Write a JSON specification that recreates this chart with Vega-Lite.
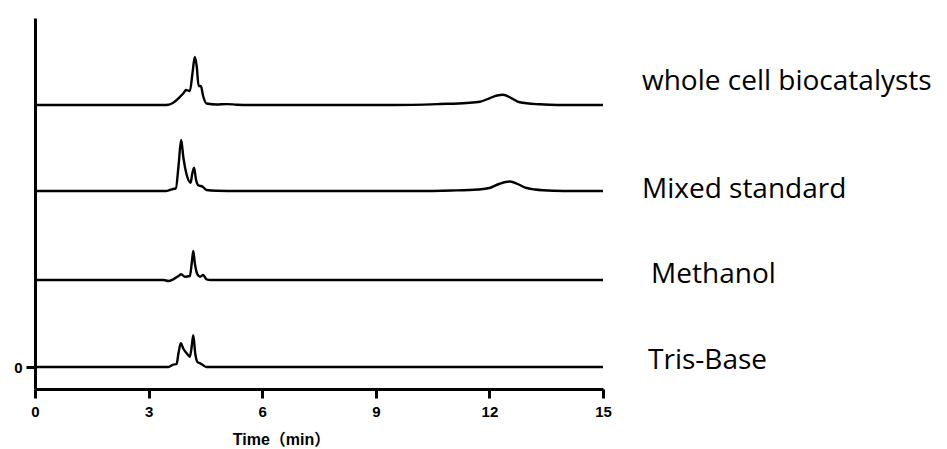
{
  "$schema": "https://vega.github.io/schema/vega-lite/v6.json",
  "width": 568,
  "height": 371,
  "autosize": {"type": "none"},
  "padding": {"left": 35, "top": 18, "right": 344, "bottom": 60},
  "background": "white",
  "config": {"view": {"stroke": null}},
  "layer": [
    {
      "data": {"values": [
        {"series": "whole cell biocatalysts", "t": 0, "value": 262},
        {"series": "whole cell biocatalysts", "t": 3.4, "value": 262},
        {"series": "whole cell biocatalysts", "t": 3.52, "value": 262.2},
        {"series": "whole cell biocatalysts", "t": 3.65, "value": 264.3},
        {"series": "whole cell biocatalysts", "t": 3.81, "value": 269.3},
        {"series": "whole cell biocatalysts", "t": 3.87, "value": 271.7},
        {"series": "whole cell biocatalysts", "t": 3.93, "value": 274.3},
        {"series": "whole cell biocatalysts", "t": 3.99, "value": 277},
        {"series": "whole cell biocatalysts", "t": 4.09, "value": 276},
        {"series": "whole cell biocatalysts", "t": 4.16, "value": 294},
        {"series": "whole cell biocatalysts", "t": 4.22, "value": 310},
        {"series": "whole cell biocatalysts", "t": 4.27, "value": 301},
        {"series": "whole cell biocatalysts", "t": 4.32, "value": 281},
        {"series": "whole cell biocatalysts", "t": 4.38, "value": 281},
        {"series": "whole cell biocatalysts", "t": 4.44, "value": 271},
        {"series": "whole cell biocatalysts", "t": 4.53, "value": 263.5},
        {"series": "whole cell biocatalysts", "t": 4.8, "value": 262.5},
        {"series": "whole cell biocatalysts", "t": 5.06, "value": 262.9},
        {"series": "whole cell biocatalysts", "t": 5.33, "value": 262.3},
        {"series": "whole cell biocatalysts", "t": 5.7, "value": 262},
        {"series": "whole cell biocatalysts", "t": 9.5, "value": 262},
        {"series": "whole cell biocatalysts", "t": 10.7, "value": 263},
        {"series": "whole cell biocatalysts", "t": 11.4, "value": 264},
        {"series": "whole cell biocatalysts", "t": 11.75, "value": 265.3},
        {"series": "whole cell biocatalysts", "t": 12.0, "value": 268.7},
        {"series": "whole cell biocatalysts", "t": 12.2, "value": 271.5},
        {"series": "whole cell biocatalysts", "t": 12.36, "value": 272.3},
        {"series": "whole cell biocatalysts", "t": 12.59, "value": 268.7},
        {"series": "whole cell biocatalysts", "t": 12.8, "value": 264.7},
        {"series": "whole cell biocatalysts", "t": 13.33, "value": 262.7},
        {"series": "whole cell biocatalysts", "t": 13.8, "value": 262},
        {"series": "whole cell biocatalysts", "t": 15, "value": 262},

        {"series": "Mixed standard", "t": 0, "value": 176},
        {"series": "Mixed standard", "t": 3.45, "value": 176},
        {"series": "Mixed standard", "t": 3.61, "value": 177.7},
        {"series": "Mixed standard", "t": 3.72, "value": 178.7},
        {"series": "Mixed standard", "t": 3.79, "value": 201},
        {"series": "Mixed standard", "t": 3.86, "value": 227},
        {"series": "Mixed standard", "t": 3.92, "value": 209},
        {"series": "Mixed standard", "t": 4.0, "value": 193},
        {"series": "Mixed standard", "t": 4.11, "value": 184.3},
        {"series": "Mixed standard", "t": 4.15, "value": 192.7},
        {"series": "Mixed standard", "t": 4.2, "value": 199.3},
        {"series": "Mixed standard", "t": 4.25, "value": 187.7},
        {"series": "Mixed standard", "t": 4.31, "value": 181.7},
        {"series": "Mixed standard", "t": 4.43, "value": 180.3},
        {"series": "Mixed standard", "t": 4.53, "value": 177},
        {"series": "Mixed standard", "t": 4.8, "value": 176.3},
        {"series": "Mixed standard", "t": 5.4, "value": 176},
        {"series": "Mixed standard", "t": 10.0, "value": 176},
        {"series": "Mixed standard", "t": 11.0, "value": 176.5},
        {"series": "Mixed standard", "t": 11.7, "value": 177.5},
        {"series": "Mixed standard", "t": 12.0, "value": 179},
        {"series": "Mixed standard", "t": 12.25, "value": 183},
        {"series": "Mixed standard", "t": 12.54, "value": 185.5},
        {"series": "Mixed standard", "t": 12.75, "value": 183},
        {"series": "Mixed standard", "t": 12.95, "value": 179.3},
        {"series": "Mixed standard", "t": 13.2, "value": 177.5},
        {"series": "Mixed standard", "t": 13.7, "value": 176.3},
        {"series": "Mixed standard", "t": 14.2, "value": 176},
        {"series": "Mixed standard", "t": 15, "value": 176},

        {"series": "Methanol", "t": 0, "value": 87},
        {"series": "Methanol", "t": 3.4, "value": 87},
        {"series": "Methanol", "t": 3.52, "value": 86},
        {"series": "Methanol", "t": 3.65, "value": 87.7},
        {"series": "Methanol", "t": 3.79, "value": 91},
        {"series": "Methanol", "t": 3.86, "value": 92.7},
        {"series": "Methanol", "t": 3.96, "value": 90.3},
        {"series": "Methanol", "t": 4.09, "value": 91},
        {"series": "Methanol", "t": 4.14, "value": 104},
        {"series": "Methanol", "t": 4.18, "value": 116},
        {"series": "Methanol", "t": 4.22, "value": 104},
        {"series": "Methanol", "t": 4.29, "value": 92.7},
        {"series": "Methanol", "t": 4.36, "value": 90.3},
        {"series": "Methanol", "t": 4.44, "value": 92},
        {"series": "Methanol", "t": 4.53, "value": 87.7},
        {"series": "Methanol", "t": 4.65, "value": 87},
        {"series": "Methanol", "t": 15, "value": 87},

        {"series": "Tris-Base", "t": 0, "value": 0},
        {"series": "Tris-Base", "t": 3.52, "value": 0},
        {"series": "Tris-Base", "t": 3.65, "value": 2.3},
        {"series": "Tris-Base", "t": 3.74, "value": 3},
        {"series": "Tris-Base", "t": 3.79, "value": 14},
        {"series": "Tris-Base", "t": 3.85, "value": 23.7},
        {"series": "Tris-Base", "t": 3.92, "value": 18},
        {"series": "Tris-Base", "t": 4.0, "value": 14},
        {"series": "Tris-Base", "t": 4.09, "value": 10.3},
        {"series": "Tris-Base", "t": 4.14, "value": 21},
        {"series": "Tris-Base", "t": 4.18, "value": 31.7},
        {"series": "Tris-Base", "t": 4.23, "value": 14},
        {"series": "Tris-Base", "t": 4.29, "value": 5},
        {"series": "Tris-Base", "t": 4.36, "value": 3.7},
        {"series": "Tris-Base", "t": 4.44, "value": 1.7},
        {"series": "Tris-Base", "t": 4.53, "value": 0},
        {"series": "Tris-Base", "t": 15, "value": 0}
      ]},
      "mark": {"type": "line", "color": "#000000", "strokeWidth": 2.4, "interpolate": "monotone"},
      "encoding": {
        "x": {
          "field": "t", "type": "quantitative",
          "scale": {"domain": [0, 15], "nice": false, "zero": false},
          "axis": {
            "values": [0, 3, 6, 9, 12, 15],
            "title": "Time（min）",
            "titleFont": "Liberation Sans, Noto Sans CJK SC",
            "titleFontSize": 16, "titleFontWeight": "bold", "titleColor": "#000",
            "titleX": 246, "titleY": 50, "titleBaseline": "middle", "titleAlign": "center", "titleAnchor": null,
            "labelFont": "Liberation Sans", "labelFontSize": 15, "labelFontWeight": "bold", "labelColor": "#000",
            "labelPadding": 6, "labelFlush": false,
            "domainColor": "#000", "domainWidth": 3,
            "tickColor": "#000", "tickWidth": 3, "tickSize": 9,
            "grid": false
          }
        },
        "y": {
          "field": "value", "type": "quantitative",
          "scale": {"domain": [-22, 349], "nice": false, "zero": false},
          "axis": {
            "values": [0],
            "title": null,
            "labelFont": "Liberation Sans", "labelFontSize": 15, "labelFontWeight": "bold", "labelColor": "#000",
            "labelPadding": 4,
            "domainColor": "#000", "domainWidth": 3,
            "tickColor": "#000", "tickWidth": 3, "tickSize": 9,
            "grid": false
          }
        },
        "detail": {"field": "series", "type": "nominal"}
      }
    },
    {
      "data": {"values": [
        {"label": "whole cell biocatalysts", "t": 16.03, "value": 285},
        {"label": "Mixed standard", "t": 16.03, "value": 177},
        {"label": "Methanol", "t": 16.27, "value": 92},
        {"label": "Tris-Base", "t": 16.19, "value": 6}
      ]},
      "mark": {"type": "text", "align": "left", "baseline": "middle", "font": "Open Sans", "fontSize": 28, "color": "#000"},
      "encoding": {
        "x": {"field": "t", "type": "quantitative"},
        "y": {"field": "value", "type": "quantitative"},
        "text": {"field": "label"}
      }
    },
    {
      "data": {"values": [{"label": "graphy", "t": 0.98, "value": 375}]},
      "mark": {"type": "text", "align": "left", "baseline": "alphabetic", "font": "Liberation Serif", "fontSize": 26, "color": "#000"},
      "encoding": {
        "x": {"field": "t", "type": "quantitative"},
        "y": {"field": "value", "type": "quantitative"},
        "text": {"field": "label"}
      }
    }
  ]
}
